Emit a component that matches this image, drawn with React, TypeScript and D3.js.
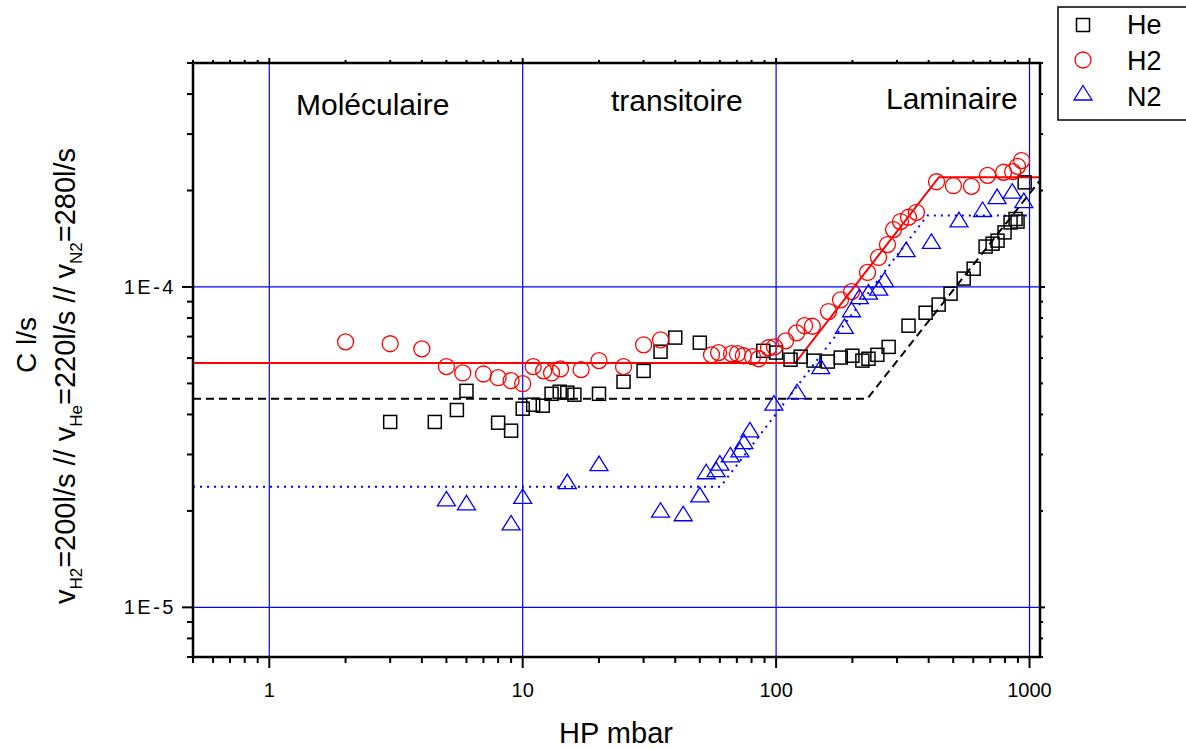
import React from 'react';
import * as d3 from 'd3';

const W = 1186;
const H = 749;

// ---- Data (HP in mbar, C in l/s) ----
const heP = [3, 4.5, 5.5, 6, 8, 9, 10, 11, 12, 13, 14, 15, 16, 20, 25, 30, 35, 40, 50, 89, 100, 114, 125, 140.5, 160, 180, 200, 219, 231.5, 251, 278, 333, 389, 438, 488, 550, 602, 671, 715, 748, 797, 842, 881, 897, 957];
const heC = [3.79e-5, 3.79e-5, 4.13e-5, 4.74e-5, 3.77e-5, 3.56e-5, 4.17e-5, 4.29e-5, 4.26e-5, 4.64e-5, 4.71e-5, 4.68e-5, 4.61e-5, 4.64e-5, 5.06e-5, 5.47e-5, 6.28e-5, 6.95e-5, 6.70e-5, 6.32e-5, 6.24e-5, 5.93e-5, 6.06e-5, 5.89e-5, 5.85e-5, 6.02e-5, 6.10e-5, 5.89e-5, 5.97e-5, 6.14e-5, 6.50e-5, 7.57e-5, 8.31e-5, 8.81e-5, 9.53e-5, 10.62e-5, 11.4e-5, 13.37e-5, 13.65e-5, 13.95e-5, 14.8e-5, 15.9e-5, 16.3e-5, 16.0e-5, 21.2e-5];

const h2P = [2, 3, 4, 5, 5.8, 7, 8, 9, 10, 11, 12.1, 13, 14.1, 17, 20, 25, 30, 35, 55.6, 59.3, 66.7, 70.4, 74.3, 80.7, 85.3, 93.4, 98.6, 109, 120.5, 129.5, 139, 161, 179.6, 198.5, 229.5, 253.7, 275, 290.6, 309.7, 333, 358, 429.6, 501, 590, 683, 790, 858, 897, 931];
const h2C = [6.74e-5, 6.65e-5, 6.41e-5, 5.64e-5, 5.39e-5, 5.35e-5, 5.21e-5, 5.10e-5, 4.99e-5, 5.64e-5, 5.47e-5, 5.39e-5, 5.55e-5, 5.52e-5, 5.89e-5, 5.64e-5, 6.60e-5, 6.84e-5, 6.14e-5, 6.24e-5, 6.19e-5, 6.19e-5, 6.10e-5, 6.06e-5, 5.97e-5, 6.46e-5, 6.50e-5, 6.79e-5, 7.19e-5, 7.57e-5, 7.54e-5, 8.38e-5, 9.12e-5, 9.67e-5, 11.1e-5, 12.36e-5, 13.56e-5, 15.1e-5, 16.0e-5, 16.5e-5, 17.1e-5, 21.3e-5, 20.7e-5, 20.6e-5, 22.3e-5, 22.8e-5, 22.9e-5, 23.8e-5, 24.8e-5];

const n2P = [5, 6, 9, 10, 15, 20, 35, 43, 50, 53, 58, 60, 66, 72, 74.6, 78.8, 98, 121, 150, 186, 198.5, 213, 231.5, 254, 268, 326, 410, 527, 653, 745, 855, 950];
const n2C = [2.18e-5, 2.12e-5, 1.834e-5, 2.22e-5, 2.47e-5, 2.81e-5, 2.01e-5, 1.96e-5, 2.245e-5, 2.65e-5, 2.69e-5, 2.82e-5, 2.99e-5, 3.10e-5, 3.29e-5, 3.58e-5, 4.34e-5, 4.71e-5, 5.64e-5, 7.53e-5, 8.49e-5, 9.33e-5, 9.64e-5, 9.91e-5, 10.54e-5, 13.08e-5, 13.87e-5, 16.2e-5, 17.45e-5, 19.15e-5, 19.9e-5, 18.6e-5];

// Fit lines
const heFitP = [0.5, 229, 1100];
const heFitC = [4.48e-5, 4.48e-5, 2.15e-4];
const h2FitP = [0.5, 119, 439, 1100];
const h2FitC = [5.79e-5, 5.79e-5, 2.2e-4, 2.2e-4];
const n2FitP = [0.5, 60.3, 395, 1000];
const n2FitC = [2.38e-5, 2.38e-5, 1.67e-4, 1.67e-4];

const xTickValues = [1, 10, 100, 1000];
const xTickLabels = ['1', '10', '100', '1000'];
const yTickValues = [1e-5, 1e-4];
const yTickLabels = ['1E-5', '1E-4'];
const xGrid = [1, 10, 100, 1000];
const yGrid = [1e-5, 1e-4];
const regionLabels = ['Moléculaire', 'transitoire', 'Laminaire'];
const legendNames = ['He', 'H2', 'N2'];

const FONT = "Arial, 'Liberation Sans', Helvetica, sans-serif";

const isDecade = (v: number) => Math.abs(Math.log10(v) - Math.round(Math.log10(v))) < 1e-9;

const zip = (a: number[], b: number[]) => a.map((v, i) => [v, b[i]] as [number, number]);

export default function App() {
  const left = 193, right = 1040, top = 63, bottom = 657;
  const x = d3.scaleLog().domain([0.5, 1100]).range([left, right]);
  const y = d3.scaleLog().domain([7e-6, 5e-4]).range([bottom, top]);

  const line = d3.line<[number, number]>().x(d => x(d[0])).y(d => y(d[1]));

  const xt = x.ticks();
  const yt = y.ticks();

  const sq = (px: number, py: number, k: string) => (
    <rect key={k} x={px - 6.5} y={py - 6.5} width={13} height={13} fill="none" stroke="#000" strokeWidth={1.5} />
  );
  const circ = (px: number, py: number, k: string) => (
    <circle key={k} cx={px} cy={py} r={8} fill="none" stroke="#ff0000" strokeWidth={1.3} />
  );
  const tri = (px: number, py: number, k: string) => (
    <path key={k} d={`M${px},${py - 7.5}L${px + 9},${py + 7}L${px - 9},${py + 7}Z`} fill="none" stroke="#0000ff" strokeWidth={1.3} />
  );

  return (
    <svg width={W} height={H} style={{ position: 'absolute', left: 0, top: 0, background: '#fff' }} fontFamily={FONT}>
      <defs>
        <clipPath id="plotclip">
          <rect x={left} y={top} width={right - left} height={bottom - top} />
        </clipPath>
      </defs>
      <rect x={0} y={0} width={W} height={H} fill="#fff" />

      {/* grid */}
      <g stroke="#0000ff" strokeWidth={1.2}>
        {xGrid.map(v => <line key={'gx' + v} x1={x(v)} x2={x(v)} y1={top} y2={bottom} />)}
        {yGrid.map(v => <line key={'gy' + v} x1={left} x2={right} y1={y(v)} y2={y(v)} />)}
      </g>

      {/* fit lines */}
      <g clipPath="url(#plotclip)" fill="none">
        <path d={line(zip(h2FitP, h2FitC)) || ''} stroke="#ff0000" strokeWidth={2} />
        <path d={line(zip(heFitP, heFitC)) || ''} stroke="#000" strokeWidth={2} strokeDasharray="8,5" />
        <path d={line(zip(n2FitP, n2FitC)) || ''} stroke="#0000ff" strokeWidth={2} strokeDasharray="2,5" />
      </g>

      {/* markers */}
      <g>
        {zip(heP, heC).map((d, i) => sq(x(d[0]), y(d[1]), 'he' + i))}
        {zip(h2P, h2C).map((d, i) => circ(x(d[0]), y(d[1]), 'h2' + i))}
        {zip(n2P, n2C).map((d, i) => tri(x(d[0]), y(d[1]), 'n2' + i))}
      </g>

      {/* frame */}
      <rect x={left} y={top} width={right - left} height={bottom - top} fill="none" stroke="#000" strokeWidth={2.5} />

      {/* ticks */}
      <g stroke="#000" strokeWidth={2}>
        {xt.map((v, i) => {
          const big = isDecade(v);
          return (
            <g key={'xt' + i}>
              <line x1={x(v)} x2={x(v)} y1={bottom} y2={bottom + (big ? 11 : 6)} />
              <line x1={x(v)} x2={x(v)} y1={top} y2={top - (big ? 5 : 3)} />
            </g>
          );
        })}
        {yt.map((v, i) => {
          const big = isDecade(v);
          return (
            <g key={'yt' + i}>
              <line x1={left} x2={left - (big ? 11 : 6)} y1={y(v)} y2={y(v)} />
              <line x1={right} x2={right + (big ? 5 : 3)} y1={y(v)} y2={y(v)} />
            </g>
          );
        })}
      </g>

      {/* tick labels */}
      {xTickValues.map((v, i) => (
        <text key={'xl' + i} x={x(v)} y={697} textAnchor="middle" style={{ fontSize: '20px' }} fill="#000">{xTickLabels[i]}</text>
      ))}
      {yTickValues.map((v, i) => (
        <text key={'yl' + i} x={176} y={y(v) + 7} textAnchor="end" style={{ fontSize: '20px', letterSpacing: '2.5px' }} fill="#000">{yTickLabels[i]}</text>
      ))}

      {/* axis titles */}
      <text x={616} y={743} textAnchor="middle" fontSize={29}>HP mbar</text>
      <text transform="translate(36,345) rotate(-90)" textAnchor="middle" fontSize={28}>C l/s</text>
      <text transform="translate(75,376) rotate(-90)" textAnchor="middle" fontSize={29}>
        <tspan>v</tspan>
        <tspan fontSize={17} dy={7}>H2</tspan>
        <tspan dy={-7}>=200l/s // v</tspan>
        <tspan fontSize={17} dy={7}>He</tspan>
        <tspan dy={-7}>=220l/s // v</tspan>
        <tspan fontSize={17} dy={7}>N2</tspan>
        <tspan dy={-7}>=280l/s</tspan>
      </text>

      {/* region labels */}
      <g fontSize={30} fill="#000">
        <text x={296} y={115}>{regionLabels[0]}</text>
        <text x={611} y={111}>{regionLabels[1]}</text>
        <text x={886} y={109}>{regionLabels[2]}</text>
      </g>

      {/* legend */}
      <rect x={1058} y={7} width={140} height={113} fill="#fff" stroke="#000" strokeWidth={1.5} />
      {sq(1083, 25, 'lg0')}
      {circ(1083, 60, 'lg1')}
      {tri(1083, 93, 'lg2')}
      <g fontSize={27} fill="#000">
        {legendNames.map((n, i) => (
          <text key={'ln' + i} x={1127} y={34 + i * 36}>{n}</text>
        ))}
      </g>
    </svg>
  );
}
